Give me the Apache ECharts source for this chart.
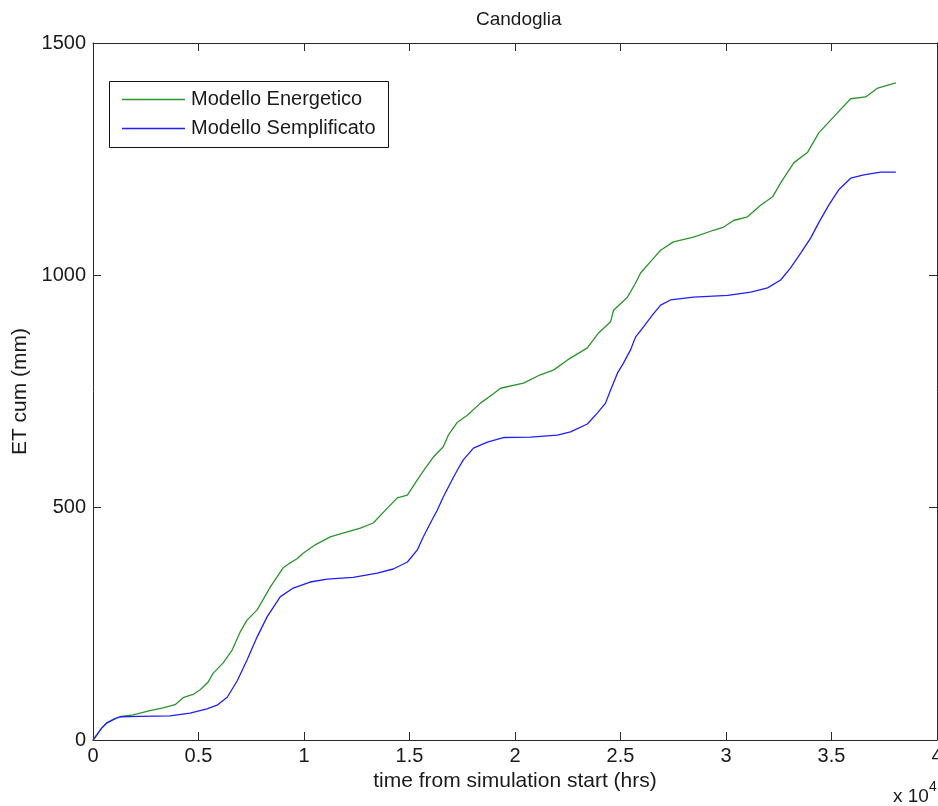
<!DOCTYPE html>
<html>
<head>
<meta charset="utf-8">
<script src="https://cdn.jsdelivr.net/npm/echarts@6/dist/echarts.min.js"></script>
<style>
  html, body { margin: 0; padding: 0; background: #fff; }
  #chart { width: 938px; height: 806px; }
</style>
</head>
<body>
<div id="chart"></div>
<script>
// Cumulative evapotranspiration at Candoglia, two model variants.
// Time in hours since the start of the simulation; ET in mm.
const energeticoHours = [0, 200, 400, 660, 1000, 1280, 1900, 2700, 3320, 3890, 4270, 4740, 5080, 5460, 5700, 6170, 6600, 6970, 7300, 7780, 8400, 9000, 9300, 9670, 9960, 10530, 11240, 12050, 12670, 13280, 13950, 14420, 14900, 15370, 15750, 16130, 16600, 16840, 17270, 17740, 18360, 18980, 19310, 20400, 21200, 21820, 22490, 23430, 23960, 24530, 24670, 25330, 25710, 25950, 26570, 26900, 27510, 28460, 29410, 29890, 30360, 31020, 31640, 32210, 32590, 33210, 33870, 34390, 35100, 35910, 36620, 37190, 38050];
const energeticoET = [0, 12, 25, 37, 45, 50, 54, 63, 69, 76, 91, 98, 108, 125, 144, 166, 194, 232, 258, 280, 329, 370, 380, 390, 402, 420, 437, 448, 456, 467, 499, 521, 527, 560, 585, 609, 631, 656, 684, 699, 725, 745, 757, 768, 786, 796, 818, 844, 876, 900, 925, 953, 983, 1005, 1037, 1054, 1072, 1082, 1097, 1104, 1118, 1126, 1151, 1169, 1199, 1242, 1265, 1306, 1341, 1380, 1384, 1403, 1414];

const semplificatoHours = [0, 200, 400, 660, 1000, 1280, 2230, 3650, 4600, 5400, 5880, 6360, 6830, 7300, 7780, 8250, 8870, 9490, 10290, 11100, 12330, 13470, 14230, 14900, 15370, 15650, 15990, 16320, 16600, 16940, 17270, 17550, 18030, 18690, 19450, 20730, 22010, 22630, 23430, 23910, 24290, 24530, 24860, 25140, 25470, 25710, 26090, 26520, 26900, 27370, 28460, 30080, 31170, 31970, 32590, 33060, 33540, 34010, 34390, 34870, 35340, 35910, 36530, 37330, 38050];
const semplificatoET = [0, 12, 25, 37, 45, 50, 51, 52, 58, 67, 75, 92, 127, 172, 222, 265, 308, 327, 340, 346, 350, 359, 368, 383, 409, 437, 467, 495, 523, 553, 581, 603, 628, 641, 651, 652, 656, 663, 680, 704, 725, 753, 790, 811, 839, 867, 889, 915, 936, 947, 953, 957, 964, 973, 990, 1016, 1048, 1080, 1113, 1151, 1184, 1209, 1216, 1222, 1222];

const xTicks = [0, 0.5, 1, 1.5, 2, 2.5, 3, 3.5, 4];   // ×10^4 h
const yTicks = [0, 500, 1000, 1500];

const seriesNames = ['Modello Energetico', 'Modello Semplificato'];
const seriesColors = ['#2b952b', '#1f1fff'];

function pairs(xs, ys) { return xs.map((x, i) => [x, ys[i]]); }

const FONT = 'Liberation Sans';
const TXT = '#1a1a1a';
const AXIS = '#2a2a2a';

const chart = echarts.init(document.getElementById('chart'), null, { renderer: 'canvas' });

const xBase = {
  type: 'value',
  min: xTicks[0] * 1e4,
  max: xTicks[xTicks.length - 1] * 1e4,
  interval: (xTicks[1] - xTicks[0]) * 1e4,
  splitLine: { show: false },
  axisLine: { show: true, onZero: false, lineStyle: { color: AXIS, width: 1 } },
  axisTick: { show: true, inside: true, length: 8, lineStyle: { color: AXIS } }
};
const yBase = {
  type: 'value',
  min: yTicks[0],
  max: yTicks[yTicks.length - 1],
  interval: yTicks[1] - yTicks[0],
  splitLine: { show: false },
  axisLine: { show: true, onZero: false, lineStyle: { color: AXIS, width: 1 } },
  axisTick: { show: true, inside: true, length: 8, lineStyle: { color: AXIS } }
};

// Boxed legend in the upper-left corner of the axes
const LEG = { x: 109, y: 81, w: 279, h: 66, lineX0: 122, lineX1: 185, textX: 191, rows: [99, 128] };
const legendGraphics = [
  { type: 'rect', shape: { x: LEG.x + 0.5, y: LEG.y + 0.5, width: LEG.w, height: LEG.h },
    style: { fill: '#fff', stroke: '#111', lineWidth: 1 }, z: 10 }
];
seriesNames.forEach((n, i) => {
  const y = LEG.rows[i] + 0.5;
  legendGraphics.push({ type: 'line', shape: { x1: LEG.lineX0, y1: y, x2: LEG.lineX1, y2: y },
    style: { stroke: seriesColors[i], lineWidth: 1.3 }, z: 11 });
  legendGraphics.push({ type: 'text', x: LEG.textX, y: LEG.rows[i],
    style: { text: n, fontFamily: FONT, fontSize: 20, fill: TXT, verticalAlign: 'middle', align: 'left' }, z: 11 });
});

chart.setOption({
  animation: false,
  backgroundColor: '#fff',
  title: {
    text: 'Candoglia',
    left: 471,
    top: 5,
    textStyle: { fontFamily: FONT, fontSize: 19, fontWeight: 'normal', color: TXT }
  },
  grid: { left: 93, right: 1, top: 43, bottom: 66, containLabel: false, outerBoundsMode: 'none' },
  xAxis: [
    Object.assign({}, xBase, {
      position: 'bottom',
      name: 'time from simulation start (hrs)',
      nameLocation: 'middle',
      nameGap: 30,
      nameTextStyle: { fontFamily: FONT, fontSize: 21, color: TXT },
      axisLabel: {
        margin: 6,
        fontFamily: FONT, fontSize: 20, color: TXT,
        formatter: v => String(Math.round(v / 1000) / 10)
      }
    }),
    Object.assign({}, xBase, { position: 'top', axisLabel: { show: false } })
  ],
  yAxis: [
    Object.assign({}, yBase, {
      position: 'left',
      name: 'ET cum (mm)',
      nameLocation: 'middle',
      nameGap: 58,
      nameTextStyle: { fontFamily: FONT, fontSize: 21, color: TXT },
      axisLabel: { margin: 7, fontFamily: FONT, fontSize: 20, color: TXT, formatter: v => String(v) }
    }),
    Object.assign({}, yBase, { position: 'right', axisLabel: { show: false } })
  ],
  series: [
    {
      name: seriesNames[0],
      type: 'line',
      showSymbol: false,
      symbol: 'none',
      data: pairs(energeticoHours, energeticoET),
      lineStyle: { color: seriesColors[0], width: 1.3 },
      itemStyle: { color: seriesColors[0] }
    },
    {
      name: seriesNames[1],
      type: 'line',
      showSymbol: false,
      symbol: 'none',
      data: pairs(semplificatoHours, semplificatoET),
      lineStyle: { color: seriesColors[1], width: 1.3 },
      itemStyle: { color: seriesColors[1] }
    }
  ],
  graphic: legendGraphics.concat([
    { type: 'text', x: 893, y: 797,
      style: { text: 'x 10', fontFamily: FONT, fontSize: 19, fill: TXT, verticalAlign: 'middle', align: 'left' } },
    { type: 'text', x: 929, y: 787,
      style: { text: '4', fontFamily: FONT, fontSize: 14, fill: TXT, verticalAlign: 'middle', align: 'left' } }
  ])
});
</script>
</body>
</html>
